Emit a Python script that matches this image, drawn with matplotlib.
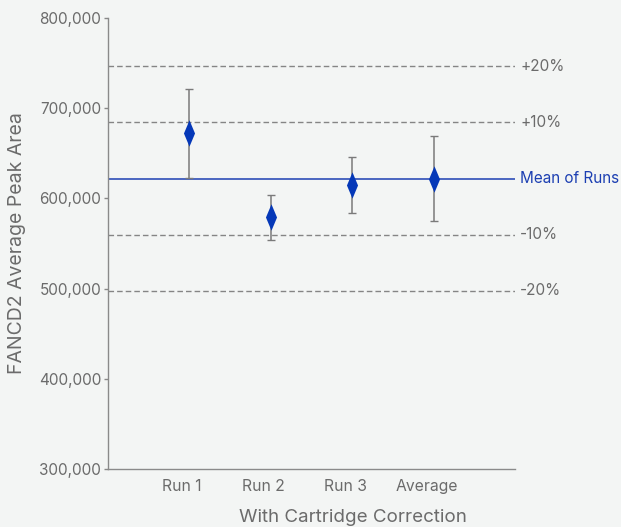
import matplotlib
matplotlib.use("Agg")
import matplotlib.pyplot as plt
from matplotlib.path import Path
import numpy as np

# Peak area per run (with cartridge correction)
categories = ["Run 1", "Run 2", "Run 3", "Average"]
peak_area = [672000, 579000, 615000, 622000]
peak_err = [49000, 25000, 31000, 47000]
mean_of_runs = 622000
band_pcts = [20, 10, -10, -20]
y_ticks = [300000, 400000, 500000, 600000, 700000, 800000]

plt.rcParams["font.family"] = ["Inter", "DejaVu Sans"]

bg = "#f3f5f4"
gray_txt = "#6b6b6b"
blue = "#0538b8"
line_blue = "#1c3fb2"

fig = plt.figure(figsize=(6.21, 5.27), dpi=100, facecolor=bg)
ax = fig.add_axes([108 / 621, 58 / 527, 407 / 621, 451 / 527], facecolor=bg)

x = np.arange(len(categories))
dodge = 0.09

# tall narrow diamond marker
diamond = Path([(0, 1), (0.42, 0), (0, -1), (-0.42, 0), (0, 1)],
               [Path.MOVETO, Path.LINETO, Path.LINETO, Path.LINETO, Path.CLOSEPOLY])

# reference lines: mean and +/- bands
ax.axhline(mean_of_runs, color=line_blue, lw=1.1, zorder=1)
for p in band_pcts:
    ax.axhline(mean_of_runs * (1 + p / 100), color="#858585", lw=1.0,
               linestyle=(0, (4, 2.2)), zorder=1)
    ax.text(1.0 + 5 / 407, mean_of_runs * (1 + p / 100), f"{p:+d}%",
            transform=ax.get_yaxis_transform(), ha="left", va="center",
            fontsize=11, color=gray_txt)
ax.text(1.0 + 5 / 407, mean_of_runs, "Mean of Runs",
        transform=ax.get_yaxis_transform(), ha="left", va="center",
        fontsize=11, color=line_blue)

ax.errorbar(x + dodge, peak_area, yerr=peak_err, fmt="none", ecolor="#7a7a7a",
            elinewidth=1.1, capsize=3.2, capthick=1.0, zorder=2)
ax.plot(x + dodge, peak_area, linestyle="none", marker=diamond, markersize=19,
        color=blue, markeredgewidth=0, zorder=3)

ax.set_ylim(300000, 800000)
ax.set_xlim(-0.9, 4.08)
ax.set_yticks(y_ticks)
ax.set_yticklabels([f"{v:,}" for v in y_ticks])
ax.set_xticks(x)
ax.set_xticklabels(categories)

ax.tick_params(axis="y", length=3, width=1, color="#888888", labelsize=11,
               labelcolor=gray_txt, pad=2)
ax.tick_params(axis="x", length=0, labelsize=11.3, labelcolor=gray_txt, pad=7)

for s in ["top", "right"]:
    ax.spines[s].set_visible(False)
for s in ["left", "bottom"]:
    ax.spines[s].set_color("#8a8a8a")
    ax.spines[s].set_linewidth(1.0)

ax.set_ylabel("FANCD2 Average Peak Area", fontsize=14, color=gray_txt, labelpad=9)
ax.text((353 - 108) / 407, -49 / 451, "With Cartridge Correction",
        transform=ax.transAxes, ha="center", va="center", fontsize=13.5,
        color=gray_txt)

fig.savefig("out.png", dpi=100, facecolor=bg)
